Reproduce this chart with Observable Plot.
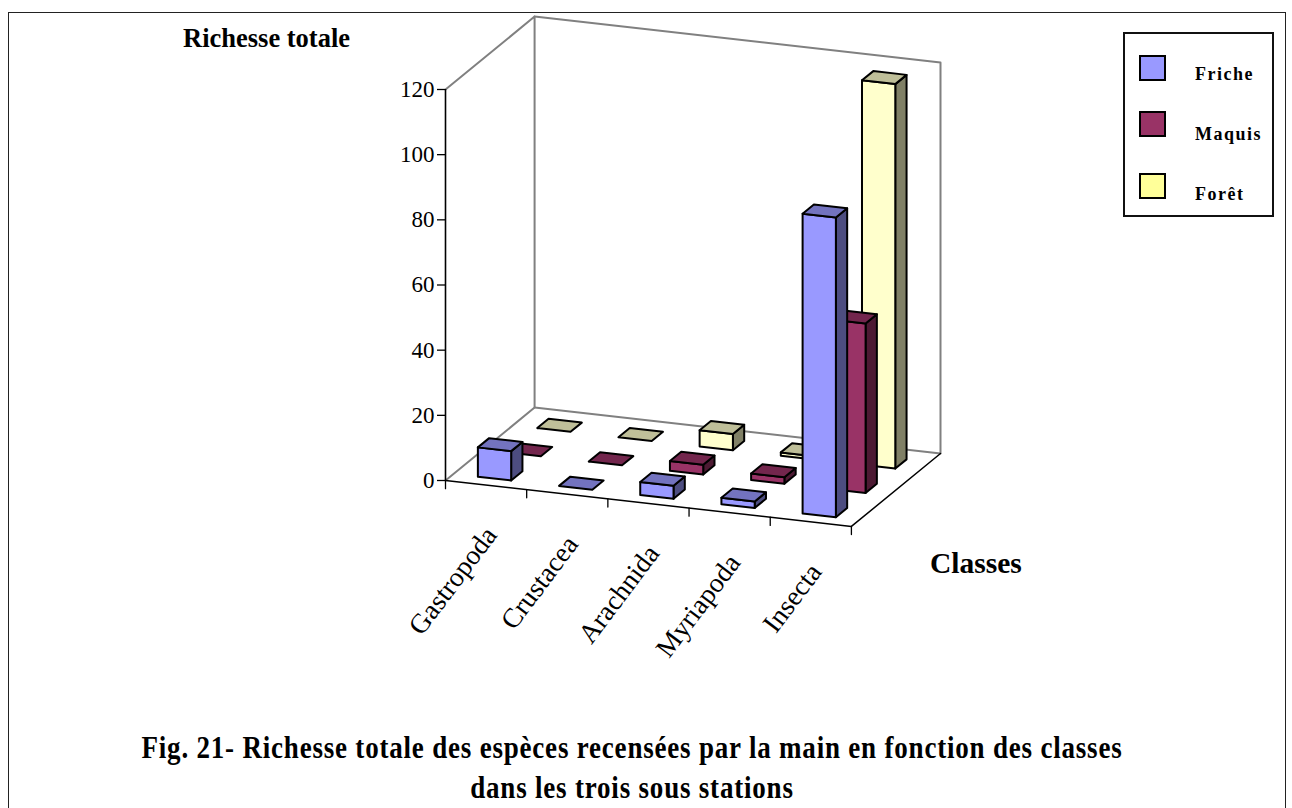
<!DOCTYPE html>
<html lang="fr">
<head>
<meta charset="utf-8">
<script src="https://cdn.jsdelivr.net/npm/d3@7"></script>
<script src="https://cdn.jsdelivr.net/npm/@observablehq/plot@0.6"></script>
<style>
html,body{margin:0;padding:0;background:#fff;overflow:hidden}
#page{position:relative;width:1292px;height:808px;font-family:"Liberation Serif",serif;color:#000;overflow:hidden}
#page svg{position:absolute;left:0;top:0;background:transparent;overflow:visible}
.frame{position:absolute;left:8px;top:12px;width:1278px;height:820px;border:1.5px solid #222;box-sizing:border-box}
.legend{position:absolute;left:1123px;top:32px;width:151px;height:185px;border:2px solid #111;box-sizing:border-box;background:#fff}
.sw{position:absolute;left:1139px;width:27px;height:26px;border:2px solid #000;box-sizing:border-box}
.lg{position:absolute;left:1195px;font-weight:bold;font-size:18px;letter-spacing:1.5px;line-height:20px;white-space:nowrap;transform:scaleY(1.1)}
.t{position:absolute;font-weight:bold;white-space:nowrap;line-height:1}
.cap{position:absolute;left:0;width:1264px;text-align:center;font-weight:bold;font-size:27px;letter-spacing:.8px;line-height:1;white-space:nowrap;transform:scaleY(1.15)}
</style>
</head>
<body>
<div id="page"><div class="frame"></div></div>
<script>
const classes = ["Gastropoda", "Crustacea", "Arachnida", "Myriapoda", "Insecta"];
const stations = ["Friche", "Maquis", "Forêt"];
const friche = [9, 0, 4, 2, 92];
const maquis = [0, 0, 3, 2, 52];
const foret  = [0, 0, 5, 1, 118];
const yTicks = [0, 20, 40, 60, 80, 100, 120];
const frontColors = ["#9999ff", "#993366", "#ffffcc"];
const topColors   = ["#7373bf", "#73264d", "#bfbf99"];
const sideColors  = ["#4d4d80", "#4d1a33", "#808066"];
const legendColors = ["#9999ff", "#993366", "#ffff99"];

// Oblique 3D: category units on x, value units on y, depth sheared into both.
const depthX = 0.3658, depthY = 7.46, slopeY = -2.82;
const X = (u, w) => u + depthX * w;
const Y = (u, w, v) => v + slopeY * u + depthY * w;
const P = (u, w, v) => ({x: X(u, w), y: Y(u, w, v)});
const nC = classes.length, nS = stations.length;

const series = [friche, maquis, foret];
const faces = [];
let id = 0;
function face(pts, fill) {
  const k = id++;
  [...pts, pts[0]].forEach(p => faces.push({...p, k, fill}));
}
for (let s = nS - 1; s >= 0; s--) {
  classes.forEach((_, c) => {
    const v = series[s][c];
    const u0 = c + 0.30, u1 = c + 0.71, w0 = s + 0.27, w1 = s + 0.65;
    if (v > 0) {
      face([P(u1,w0,0), P(u1,w1,0), P(u1,w1,v), P(u1,w0,v)], sideColors[s]);
      face([P(u0,w0,0), P(u1,w0,0), P(u1,w0,v), P(u0,w0,v)], frontColors[s]);
    }
    face([P(u0,w0,v), P(u1,w0,v), P(u1,w1,v), P(u0,w1,v)], topColors[s]);
  });
}
const walls = [
  [P(0,0,120), P(0,nS,120), P(0,nS,0), P(0,0,0)],
  [P(0,nS,120), P(nC,nS,120), P(nC,nS,0), P(0,nS,0)]
];
const wallPts = walls.flatMap((l,i) => l.map(p => ({...p, i})));
const floorPts = [P(0,0,0), P(nC,0,0), P(nC,nS,0)];
const catTicks = d3.range(nC + 1).flatMap(u => [{...P(u,0,0), u}, {...P(u,0,-2.5), u}]);
const labels = classes.map((name, c) => ({name, ...P(c + 0.5, 0, 0)}));

const chart = Plot.plot({
  width: 1292, height: 808,
  marginLeft: 445, marginRight: 352, marginTop: 89, marginBottom: 328,
  x: {domain: [0, X(nC, nS)], axis: null},
  y: {domain: [0, 120]},
  color: {type: "identity"},
  style: {fontFamily: "'Liberation Serif', serif", fontSize: "23px", color: "#000", background: "transparent"},
  marks: [
    Plot.line(wallPts, {x: "x", y: "y", z: "i", stroke: "#808080", strokeWidth: 2, curve: "linear"}),
    Plot.axisY({ticks: yTicks, tickSize: 8, tickPadding: 3, label: null, tickFormat: d => d, stroke: "#000", strokeWidth: 1.3}),
    Plot.ruleX([0], {y1: 0, y2: 120, stroke: "#000", strokeWidth: 1.6}),
    Plot.line(floorPts, {x: "x", y: "y", stroke: "#000", strokeWidth: 1.5}),
    Plot.line(catTicks, {x: "x", y: "y", z: "u", stroke: "#000", strokeWidth: 1.3}),
    Plot.line(faces, {x: "x", y: "y", z: "k", fill: "fill", stroke: "#000", strokeWidth: 2, strokeLinejoin: "round"}),
    Plot.text(labels, {x: "x", y: "y", text: "name", rotate: -53, textAnchor: "end", lineAnchor: "middle", dx: 5, dy: 45, fontSize: 27.5})
  ]
});
const page = document.getElementById("page");
page.appendChild(chart);

function el(cls, css, txt) {
  const d = document.createElement("div");
  d.className = cls; d.style.cssText = css; if (txt) d.textContent = txt;
  page.appendChild(d); return d;
}
el("legend", "");
const swTops = [55, 111, 173], lgTops = [63, 123, 183];
stations.forEach((s, i) => {
  el("sw", `top:${swTops[i]}px;background:${legendColors[i]}`);
  el("lg", `top:${lgTops[i]}px`, s);
});
el("t", "left:183px;top:25px;font-size:26.5px", "Richesse totale");
el("t", "left:930px;top:549px;font-size:29.5px", "Classes");
el("cap", "top:735px", "Fig. 21- Richesse totale des espèces recensées par la main en fonction des classes");
el("cap", "top:775px", "dans les trois sous stations");
</script>
</body>
</html>
